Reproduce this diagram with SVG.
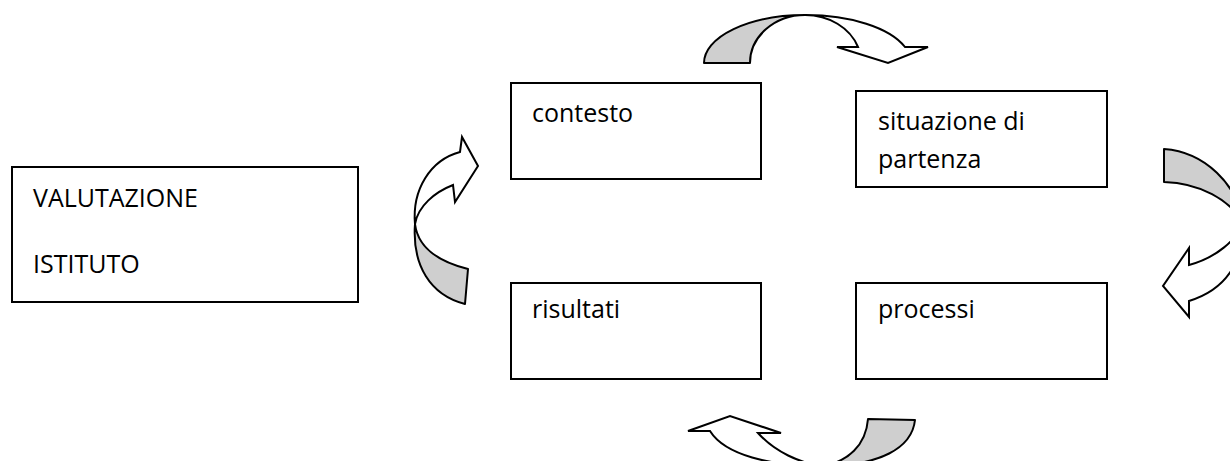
<svg xmlns="http://www.w3.org/2000/svg" width="1230" height="461" viewBox="0 0 1230 461">
<style>
.box{fill:#fff;stroke:#000;stroke-width:2}
.lbl{font-family:"Open Sans","Liberation Sans",sans-serif;font-size:25px;fill:#000}
.back{fill:#cfcfcf;stroke:#000;stroke-width:2;stroke-linejoin:round}
.front{fill:#fff;stroke:#000;stroke-width:2;stroke-linejoin:miter}
</style>
<rect width="1230" height="461" fill="#fff"/>
<g id="valutazione">
<rect class="box" x="12" y="167" width="346" height="135"/>
<text class="lbl" x="33" y="207">VALUTAZIONE</text>
<text class="lbl" x="33" y="273">ISTITUTO</text>
</g>
<g id="contesto">
<rect class="box" x="511" y="83" width="250" height="96"/>
<text class="lbl" x="532" y="122">contesto</text>
</g>
<g id="situazione">
<rect class="box" x="856" y="91" width="251" height="96"/>
<text class="lbl" x="878" y="130">situazione di</text>
<text class="lbl" x="878" y="168">partenza</text>
</g>
<g id="risultati">
<rect class="box" x="511" y="283" width="250" height="96"/>
<text class="lbl" x="532" y="318">risultati</text>
</g>
<g id="processi">
<rect class="box" x="856" y="283" width="251" height="96"/>
<text class="lbl" x="878" y="318">processi</text>
</g>
<g id="connectors">
<!-- top arrow: contesto -> situazione -->
<path class="back" d="M704,63 A101,48 0 0 1 805,15 A55,48 0 0 0 750,63 Z"/>
<path class="front" d="M805,15 A105,48 0 0 1 905,47 L928,47 L888,63 L837,47 L858,47 A56,48 0 0 0 805,15 Z"/>
<!-- right arrow: situazione -> processi -->
<path class="back" d="M1164,149 C1205,152 1238,185 1242,222 C1230,200 1200,183 1164,182 Z"/>
<path class="front" d="M1242,222 C1245,262 1225,290 1189,301 L1189,317 L1163,286 L1189,248 L1189,265 C1215,258 1238,240 1242,222 Z"/>
<!-- bottom arrow: processi -> risultati -->
<path class="back" d="M822,466 C848,462 866,445 868,419 L915,420 C912,448 880,466 822,466 Z"/>
<path class="front" d="M822,466 C770,466 725,455 710,431 L688,431 L730,416 L781,433 L758,433 C775,452 800,463 822,466 Z"/>
<!-- left arrow: valutazione -> contesto -->
<path class="back" d="M415,224 C412,265 430,295 465,304 L468,269 C440,262 418,248 415,224 Z"/>
<path class="front" d="M415,224 C412,190 430,160 460,152 L462,137 L478,166 L455,202 L453,185 C435,192 418,206 415,224 Z"/>
</g>
</svg>
